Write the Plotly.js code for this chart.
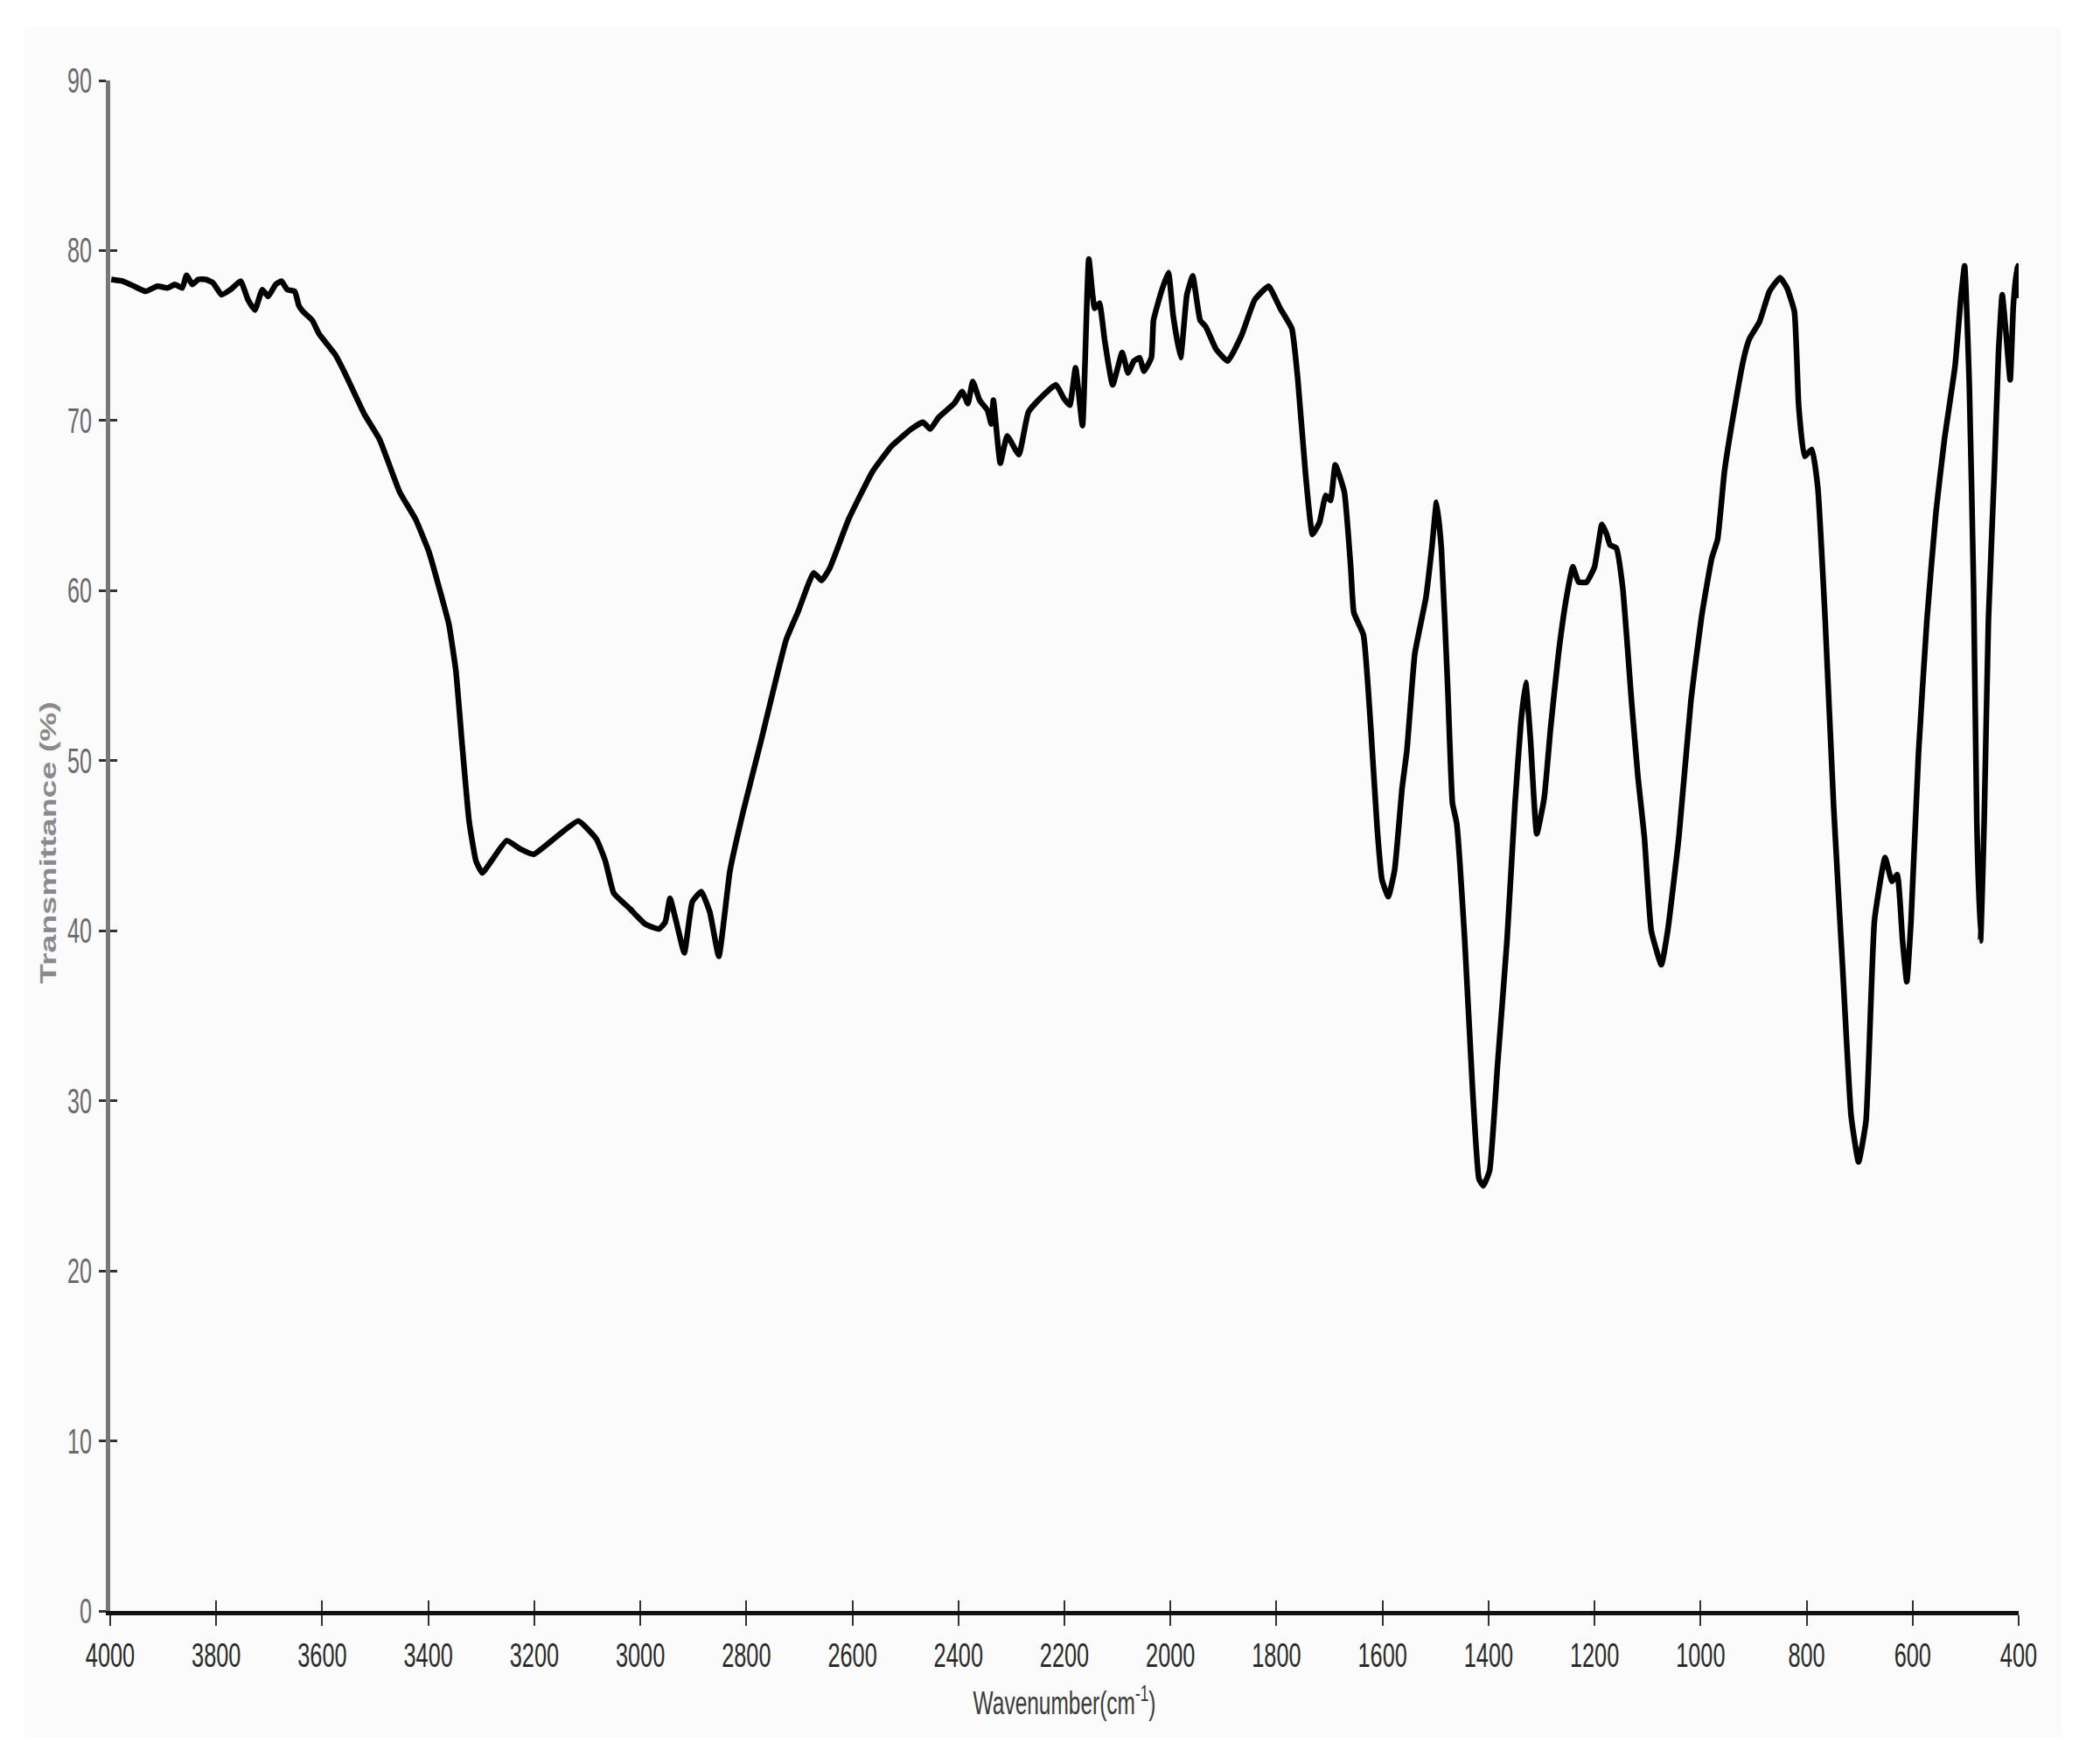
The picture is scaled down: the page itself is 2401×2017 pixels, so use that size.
<!DOCTYPE html>
<html>
<head>
<meta charset="utf-8">
<script src="https://cdn.plot.ly/plotly-3.0.1.min.js"></script>
<style>
  html, body { margin: 0; padding: 0; background: #ffffff; }
  #ftir { width: 2401px; height: 2017px; }
</style>
</head>
<body>
<div id="ftir"></div>
<script>
// FTIR spectrum, values
const wavenumber = [
  3998, 3977, 3955, 3933, 3911, 3892, 3878, 3864, 3856, 3845, 3834, 3820, 3806,
  3790, 3773, 3754, 3740, 3727, 3713, 3702, 3688, 3677, 3666, 3652, 3644, 3636,
  3619, 3606, 3576, 3559, 3521, 3492, 3454, 3424, 3399, 3378, 3361, 3348, 3336,
  3323, 3310, 3298, 3281, 3252, 3226, 3201, 3167, 3117, 3083, 3066, 3050, 3020,
  2991, 2965, 2953, 2944, 2932, 2917, 2902, 2885, 2869, 2852, 2831, 2806, 2772,
  2725, 2702, 2673, 2658, 2643, 2607, 2562, 2526, 2489, 2467, 2453, 2437, 2408,
  2393, 2382, 2373, 2360, 2345, 2338, 2334, 2321, 2308, 2286, 2268, 2246, 2216,
  2201, 2190, 2179, 2166, 2154, 2143, 2134, 2124, 2109, 2091, 2080, 2069, 2058,
  2050, 2036, 2032, 2017, 2004, 1995, 1981, 1969, 1958, 1944, 1933, 1914, 1892,
  1866, 1841, 1815, 1793, 1771, 1760, 1745, 1732, 1719, 1707, 1698, 1689, 1672,
  1660, 1654, 1636, 1622, 1610, 1601, 1589, 1577, 1563, 1554, 1539, 1518, 1507,
  1498, 1489, 1477, 1468, 1460, 1445, 1430, 1418, 1410, 1398, 1383, 1365, 1350,
  1339, 1330, 1321, 1309, 1295, 1283, 1268, 1253, 1241, 1230, 1215, 1200, 1186,
  1177, 1171, 1159, 1147, 1130, 1118, 1106, 1093, 1074, 1062, 1041, 1018, 998,
  979, 968, 955, 941, 919, 908, 889, 870, 850, 837, 823, 815, 804, 790, 779, 765,
  749, 732, 716, 702, 688, 672, 652, 639, 629, 619, 611, 603, 589, 573, 556, 540,
  520, 509, 502, 493, 485, 479, 472, 465, 457, 446, 438, 431, 424, 416, 410, 403,
  400
];

const transmittance = [
  78.3, 78.2, 77.9, 77.6, 77.9, 77.8, 78.0, 77.8, 78.55, 78.0, 78.3, 78.3, 78.1,
  77.4, 77.7, 78.2, 77.1, 76.5, 77.7, 77.3, 78.0, 78.2, 77.7, 77.6, 76.75, 76.4,
  75.9, 75.1, 73.9, 72.9, 70.4, 68.9, 65.8, 64.2, 62.3, 60.0, 58.0, 55.3, 50.9,
  46.45, 44.1, 43.4, 44.1, 45.3, 44.8, 44.5, 45.3, 46.45, 45.4, 44.1, 42.2, 41.3,
  40.4, 40.1, 40.5, 41.9, 40.5, 38.7, 41.7, 42.3, 41.1, 38.5, 43.5, 47.0, 51.2,
  57.1, 58.8, 61.05, 60.6, 61.3, 64.2, 67.0, 68.5, 69.5, 69.9, 69.5, 70.2, 71.0,
  71.7, 71.0, 72.3, 71.2, 70.6, 69.8, 71.2, 67.5, 69.1, 68.0, 70.5, 71.3, 72.1,
  71.3, 70.9, 73.1, 69.7, 79.5, 76.6, 76.9, 74.7, 72.1, 74.0, 72.8, 73.5, 73.7,
  72.9, 73.7, 75.9, 77.6, 78.7, 76.2, 73.7, 77.4, 78.5, 75.9, 75.5, 74.2, 73.5,
  75.0, 77.1, 77.9, 76.6, 75.4, 72.5, 66.8, 63.3, 64.0, 65.6, 65.3, 67.4, 65.8,
  61.4, 58.7, 57.4, 51.9, 46.0, 43.0, 42.0, 43.6, 48.4, 50.6, 56.3, 59.6, 62.5,
  65.2, 62.5, 54.3, 47.5, 46.3, 39.5, 30.6, 25.4, 25.0, 25.9, 32.1, 39.5, 47.5,
  52.2, 54.6, 51.3, 45.7, 47.8, 51.9, 56.3, 59.6, 61.4, 60.5, 60.5, 61.4, 63.9,
  63.3, 62.7, 62.5, 60.2, 53.4, 49.0, 45.5, 40.0, 38.0, 40.0, 45.5, 53.6, 58.5,
  61.9, 63.0, 67.0, 69.8, 73.6, 74.8, 75.8, 77.6, 78.4, 77.8, 76.4, 70.9, 67.9,
  68.3, 66.1, 58.3, 47.3, 37.8, 29.1, 26.4, 28.8, 40.6, 44.3, 42.9, 43.3, 39.4,
  37.0, 40.6, 50.4, 58.3, 64.6, 68.9, 73.2, 77.2, 79.1, 72.0, 60.2, 46.5, 39.4,
  46.5, 58.3, 66.9, 74.0, 77.4, 75.2, 72.4, 76.8, 79.1, 77.2
];

const xTickVals = [4000, 3800, 3600, 3400, 3200, 3000, 2800, 2600, 2400, 2200,
  2000, 1800, 1600, 1400, 1200, 1000, 800, 600, 400];
const yTickVals = [0, 10, 20, 30, 40, 50, 60, 70, 80, 90];

const sans = 'Liberation Sans, Arial, sans-serif';

const spectrum = {
  x: wavenumber,
  y: transmittance,
  type: 'scatter',
  mode: 'lines',
  line: { color: '#000000', width: 6.5, shape: 'spline', smoothing: 0.4 },
  showlegend: false,
  hoverinfo: 'x+y'
};

// empty trace so the overlay axes (inner half of the crossing ticks) get drawn
const tickHelper = {
  x: [], y: [],
  xaxis: 'x2', yaxis: 'y2',
  type: 'scatter', mode: 'lines',
  showlegend: false, hoverinfo: 'skip'
};

const layout = {
  width: 2401,
  height: 2017,
  margin: { l: 126, r: 93, t: 92, b: 175 },
  paper_bgcolor: '#ffffff',
  plot_bgcolor: '#fbfbfb',
  showlegend: false,
  shapes: [{
    type: 'rect', xref: 'paper', yref: 'paper', layer: 'below',
    x0: -0.045, x1: 1.0225, y0: -0.083, y1: 1.035,
    fillcolor: '#fbfbfb', line: { width: 0 }
  }],
  annotations: [{
    text: '<b>Transmittance (%)</b>',
    xref: 'paper', yref: 'paper',
    x: -0.0325, y: 0.5017,
    xanchor: 'center', yanchor: 'middle',
    textangle: -90,
    showarrow: false,
    font: { family: sans, size: 25, color: '#8a8a8a' }
  }],
  xaxis: {
    range: [4000, 400],
    tickmode: 'array',
    tickvals: xTickVals,
    ticks: 'outside',
    ticklen: 12,
    tickwidth: 2,
    tickcolor: '#333333',
    ticklabelstandoff: 0,
    tickfont: { family: sans, size: 39, color: '#2a2a2a' },
    showline: true,
    linecolor: '#111111',
    linewidth: 5,
    showgrid: false,
    zeroline: false,
    title: {
      text: 'Wavenumber(cm<sup>-1</sup>)',
      font: { family: sans, size: 36, color: '#3a3a3a' },
      standoff: 24
    }
  },
  yaxis: {
    range: [0, 90],
    tickmode: 'array',
    tickvals: yTickVals,
    ticks: 'outside',
    ticklen: 8,
    tickwidth: 3,
    tickcolor: '#333333',
    ticklabelstandoff: 0,
    tickfont: { family: sans, size: 40, color: '#6a6a6a' },
    showline: true,
    linecolor: '#777777',
    linewidth: 5,
    showgrid: false,
    zeroline: false
  },
  xaxis2: {
    overlaying: 'x',
    anchor: 'y2',
    side: 'bottom',
    range: [4000, 400],
    tickmode: 'array',
    tickvals: xTickVals,
    ticks: 'inside',
    ticklen: 12,
    tickwidth: 2,
    tickcolor: '#333333',
    showticklabels: false,
    showline: false,
    showgrid: false,
    zeroline: false
  },
  yaxis2: {
    overlaying: 'y',
    anchor: 'x2',
    side: 'left',
    range: [0, 90],
    tickmode: 'array',
    tickvals: yTickVals,
    ticks: 'inside',
    ticklen: 8,
    tickwidth: 3,
    tickcolor: '#333333',
    showticklabels: false,
    showline: false,
    showgrid: false,
    zeroline: false
  }
};

// the reference uses a squeezed (narrow, tall) typeface: mimic by scaling the svg text
function squeeze(el, sx, sy, anchor) {
  const b = el.getBBox();
  const cx = anchor === 'end' ? b.x + b.width : b.x + b.width / 2;
  const cy = b.y + b.height / 2;
  const t = el.getAttribute('transform') || '';
  el.setAttribute('transform',
    t + ' translate(' + cx + ',' + cy + ') scale(' + sx + ',' + sy + ') translate(' + (-cx) + ',' + (-cy) + ')');
}

Plotly.newPlot('ftir', [spectrum, tickHelper], layout, { displayModeBar: false, staticPlot: true })
  .then(function (gd) {
    gd.querySelectorAll('.xtick text').forEach(function (el) { squeeze(el, 0.65, 1, 'middle'); });
    gd.querySelectorAll('.ytick text').forEach(function (el) { squeeze(el, 0.63, 1, 'end'); });
    gd.querySelectorAll('.xtitle').forEach(function (el) { squeeze(el, 0.68, 1, 'middle'); });
    gd.querySelectorAll('.annotation-text').forEach(function (el) { squeeze(el, 1.5, 1, 'middle'); });
  });
</script>
</body>
</html>
